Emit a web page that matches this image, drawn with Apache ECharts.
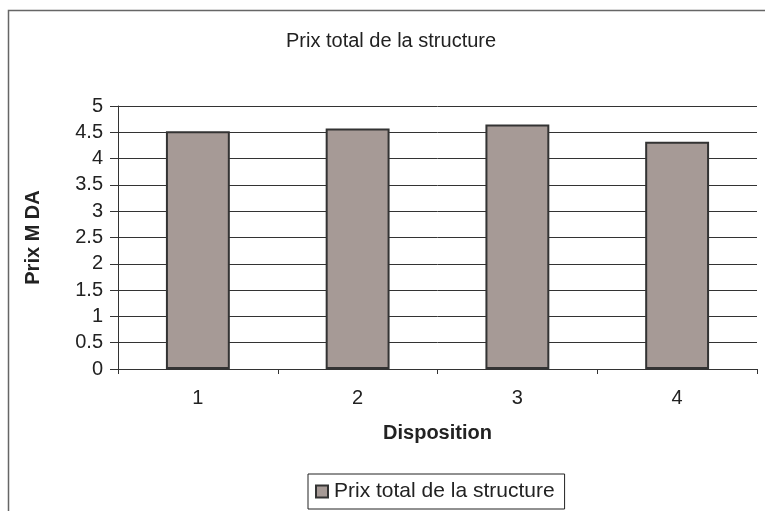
<!DOCTYPE html>
<html><head><meta charset="utf-8">
<script src="https://cdn.jsdelivr.net/npm/echarts@6/dist/echarts.min.js"></script>
<style>html,body{margin:0;padding:0;background:#fff}#c{width:765px;height:511px}</style>
</head><body><div id="c"></div>
<script>
const categories = ['1', '2', '3', '4'];
const prixTotal = [4.52, 4.57, 4.65, 4.32];
const seriesName = 'Prix total de la structure';
const titleText = 'Prix total de la structure';
const yAxisName = 'Prix M DA';
const xAxisName = 'Disposition';

const FONT = '"Liberation Sans", Arial, sans-serif';
const FS = 20;
const chart = echarts.init(document.getElementById('c'), null, {renderer: 'canvas'});
chart.setOption({
  animation: false,
  backgroundColor: '#fff',
  textStyle: {fontFamily: FONT},
  title: {text: titleText, left: 286, top: 31, padding: 0, textStyle: {fontFamily: FONT, fontSize: 20, fontWeight: 'normal', color: '#222'}},
  graphic: [
    {type: 'polyline', shape: {points: [[8.5, 520], [8.5, 10.5], [770, 10.5]]}, style: {stroke: '#666', lineWidth: 1.5, fill: null}, silent: true}
  ],
  legend: {
    bottom: 2, left: 308,
    data: [seriesName],
    itemWidth: 12, itemHeight: 12, itemGap: 4,
    padding: [7, 10, 7, 7],
    borderColor: '#222', borderWidth: 1,
    itemStyle: {borderColor: '#333', borderWidth: 2},
    textStyle: {fontFamily: FONT, fontSize: 21, color: '#222', padding: [0, 0, 0, 1]},
    icon: 'rect'
  },
  grid: {left: 118, right: 8, top: 106, bottom: 142, containLabel: false},
  xAxis: {
    type: 'category', data: categories,
    name: xAxisName, nameLocation: 'middle', nameGap: 54,
    nameTextStyle: {fontFamily: FONT, fontSize: FS, fontWeight: 'bold', color: '#222'},
    axisLine: {lineStyle: {color: '#333', width: 1}},
    axisTick: {show: true, length: 5, inside: false, lineStyle: {color: '#333'}},
    axisLabel: {margin: 19, fontFamily: FONT, fontSize: FS, color: '#222'}
  },
  yAxis: {
    type: 'value', min: 0, max: 5, interval: 0.5,
    name: yAxisName, nameLocation: 'middle', nameGap: 75,
    nameTextStyle: {fontFamily: FONT, fontSize: FS, fontWeight: 'bold', color: '#222'},
    axisLine: {show: true, lineStyle: {color: '#333', width: 1}},
    axisTick: {show: true, length: 8, lineStyle: {color: '#333'}},
    axisLabel: {margin: 15, fontFamily: FONT, fontSize: FS, color: '#222'},
    splitLine: {show: true, lineStyle: {color: '#333', width: 1}}
  },
  series: [{
    name: seriesName, type: 'bar', data: prixTotal,
    barWidth: '40%',
    itemStyle: {color: '#a69a96', borderColor: '#333', borderWidth: 2}
  }]
});
</script></body></html>
